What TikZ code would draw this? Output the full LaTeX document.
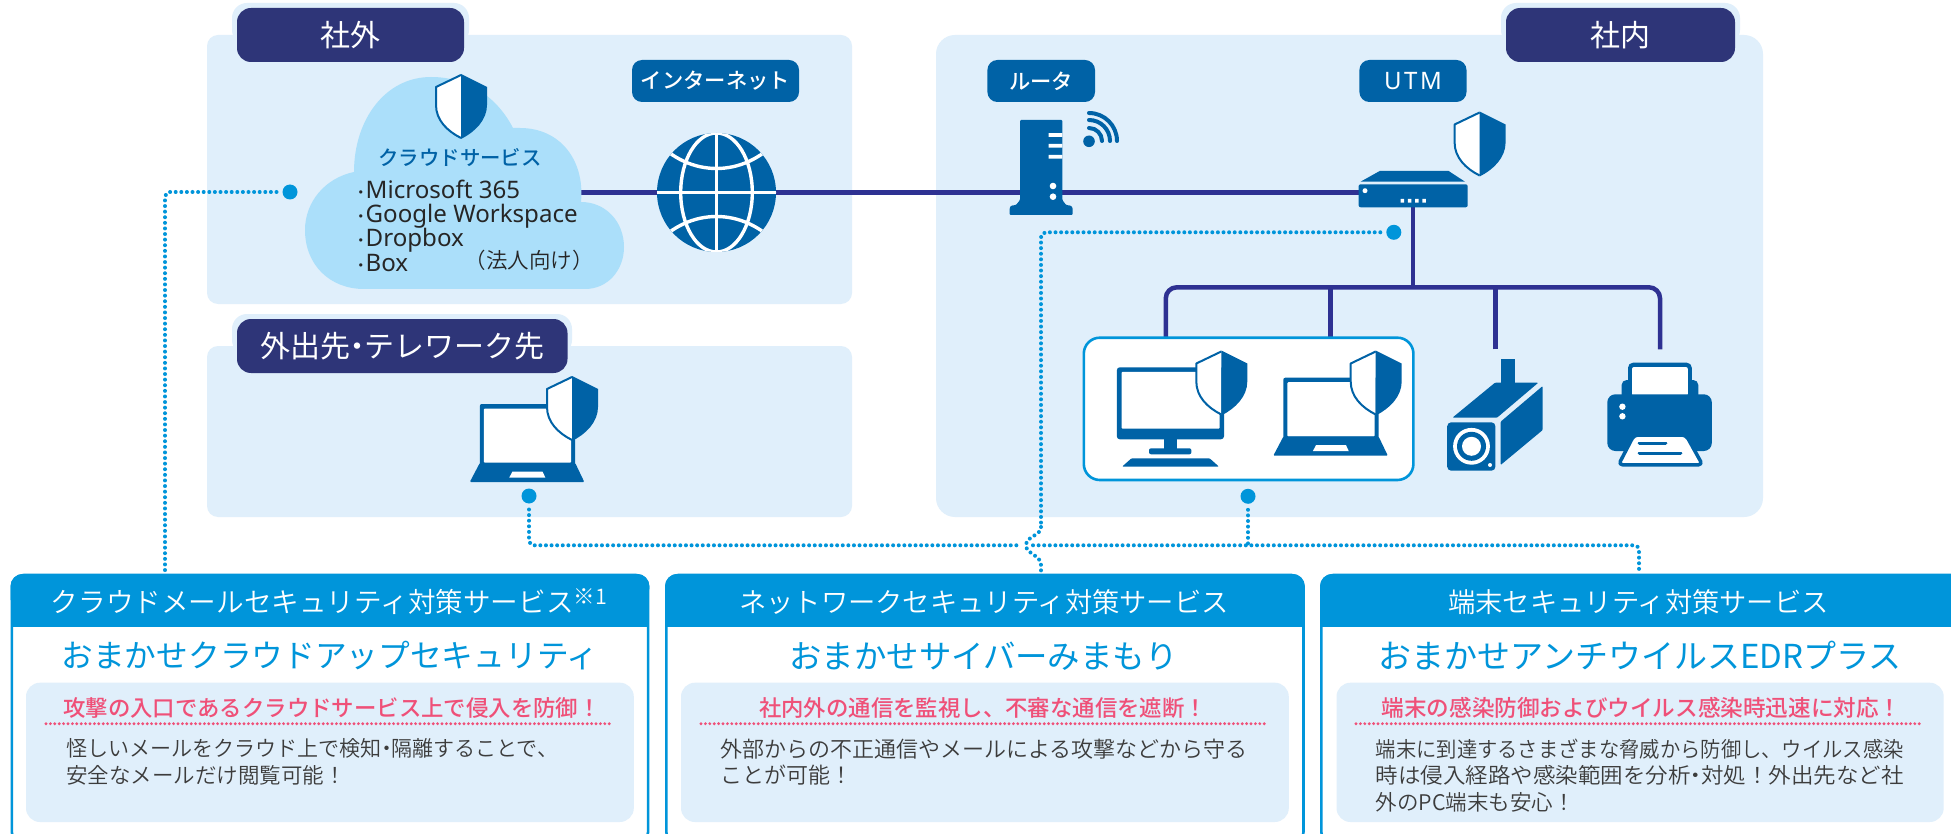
\documentclass[tikz,border=0pt]{standalone}
\usepackage{fontspec}
\setmainfont{Noto Sans CJK JP DemiLight}
\newfontfamily\jpreg{Noto Sans CJK JP}
\newfontfamily\jpmed{Noto Sans CJK JP Medium}
\newfontfamily\latinlist{Noto Sans}
\definecolor{panelbg}{HTML}{E0EFFB}
\definecolor{cloudbg}{HTML}{ABDFFA}
\definecolor{tabnavy}{HTML}{2E3578}
\definecolor{wire}{HTML}{2E3192}
\definecolor{iconblue}{HTML}{0062A6}
\definecolor{svcblue}{HTML}{0095DA}
\definecolor{pinkhead}{HTML}{EF5078}
\definecolor{bodygray}{HTML}{3C3C3C}
\newcommand{\fs}[1]{\fontsize{#1}{#1}\selectfont}
\newcommand{\nkt}{\kern-.27em ・\kern-.27em }
\newcommand{\hfit}[2]{\resizebox{#1pt}{\height}{#2}}
\newcommand{\listdot}{{\jpreg\fs{16}\kern-.3em ・\kern-.2em}}
\newcommand{\bnode}[7]{%
 \pgfmathsetmacro\bw{#5-#3}\pgfmathsetmacro\bh{#6-#4}%
 \pgfmathsetmacro\bcx{(#3+#5)/2}\pgfmathsetmacro\bcy{(#4+#6)/2}%
 \node[#1,minimum width=\bw pt,minimum height=\bh pt,inner sep=0pt,outer sep=0pt] (#2) at (\bcx,\bcy) {#7};}
\tikzset{
 panel/.style={fill=panelbg,rounded corners=11pt},
 panelbig/.style={fill=panelbg,rounded corners=19pt},
 halo/.style={fill=panelbg,rounded corners=15pt},
 tab/.style={fill=tabnavy,rounded corners=14pt,text=white,font=\jpreg\fs{30}},
 tag/.style={fill=iconblue,rounded corners=10pt,text=white,font=\jpmed\fs{21.3}},
 wireline/.style={draw=wire,line width=4.5pt},
 bluedot/.style={circle,fill=svcblue,minimum size=15pt,inner sep=0pt,outer sep=0pt},
 dotline/.style={draw=svcblue,line width=4pt,line cap=round,dash pattern=on 0pt off 5.6pt},
 pinkline/.style={draw=pinkhead,line width=3.2pt,line cap=round,dash pattern=on 0pt off 4.4pt},
 card/.style={draw=svcblue,line width=2.6pt,fill=white,rounded corners=12pt},
 inner/.style={fill=panelbg,rounded corners=14pt},
 headtext/.style={text=white,font=\fs{27.3},inner sep=0pt},
 titletext/.style={text=svcblue,font=\jpreg\fs{31.7},inner sep=0pt},
 pinktext/.style={text=pinkhead,font=\jpmed\fs{22.4},inner sep=0pt},
 bodytext/.style={text=bodygray,align=left,anchor=north west,inner sep=0pt},
 shieldicon/.pic={
  \fill[white] (0,0) -- (-25,12) -- (-25,30) .. controls (-25,45) and (-14,56) .. (0,63) -- cycle;
  \fill[iconblue] (0,-1) -- (26,12) -- (26,30) .. controls (26,45) and (14,57) .. (0,64) -- cycle;
  \draw[iconblue,line width=2pt,line join=round] (0,0) -- (-25,12) -- (-25,30) .. controls (-25,45) and (-14,56) .. (0,63);
 },
 laptopicon/.pic={
  \fill[iconblue,rounded corners=2pt] (0,0) rectangle (95.4,62);
  \fill[white,rounded corners=1pt] (4,4.5) rectangle (91.4,58.7);
  \fill[iconblue,rounded corners=1pt] (0,59) -- (95.4,59) -- (104.5,78) -- (-10,78) -- cycle;
  \fill[white] (32.7,67.5) -- (62.7,67.5) -- (65.5,73.5) -- (29.5,73.5) -- cycle;
 },
}
\begin{document}
\begin{tikzpicture}[x=1pt,y=-1pt]
\clip (0,0) rectangle (1951,834);
\fill[white] (0,0) rectangle (1951,834);
% panels
\bnode{panel}{pout}{207}{35}{852}{304}{}
\bnode{panel}{ptel}{207}{346}{852}{517}{}
\bnode{panelbig}{pin}{936}{35}{1763}{517}{}
\bnode{halo}{houtside}{232}{3}{469}{45}{}
\bnode{halo}{hinside}{1501}{3}{1740}{45}{}
\bnode{halo}{htel}{232}{314}{572}{355}{}
\bnode{tab}{tout}{237}{8}{464}{62}{社外}
\bnode{tab}{tin}{1506}{8}{1735}{62}{社内}
\bnode{tab}{ttel}{237}{319}{567.5}{373}{外出先\nkt テレワーク先}
\bnode{tag}{tnet}{632}{60}{799}{102}{インターネット}
\bnode{tag}{trouter}{987.4}{60}{1095}{102}{ルータ}
\bnode{tag,font=\latinlist\fs{24}\addfontfeature{LetterSpace=11}}{tutm}{1359.4}{60}{1466.5}{102}{UTM}
% wires
\coordinate (cloudR) at (575,192.4);
\coordinate (utmL) at (1362,192.4);
\draw[wireline] (cloudR) -- (utmL);
\coordinate (utmB) at (1413,205);
\coordinate (busTop) at (1413,287.3);
\coordinate (bA) at (1165.8,340);
\coordinate (bB) at (1330.6,340);
\coordinate (bC) at (1495.4,349.3);
\coordinate (bD) at (1660,349.3);
\draw[wireline] (utmB) -- (busTop);
\draw[wireline,rounded corners=11pt] (bA) |- (busTop) -| (bD);
\draw[wireline] (bB) -- (bB |- busTop);
\draw[wireline] (bC) -- (bC |- busTop);
% cloud
\fill[cloudbg] (364,289) -- (585,289)
 .. controls (608,289) and (624,270) .. (624,247)
 .. controls (624,222) and (606,202) .. (581,202)
 .. controls (585,160) and (560,128) .. (520,128)
 .. controls (517,128) and (515,128) .. (513,128)
 .. controls (497,97) and (468,77) .. (431,77)
 .. controls (385,77) and (354,120) .. (354,172)
 .. controls (325,178) and (305,202) .. (305,230)
 .. controls (305,265) and (330,289) .. (364,289) -- cycle;
\pic at (461,75) {shieldicon};
\node[inner sep=0pt,text=iconblue,font=\jpmed\fs{20.4}] (tcloud) at (460,158) {クラウドサービス};
\node[inner sep=0pt,align=left,anchor=north west,font=\latinlist\fontsize{24.1}{24.4}\selectfont,text=black!85] (tlist) at (357.5,179.5) {%
 \listdot Microsoft 365\\
 \listdot Google Workspace\\
 \listdot Dropbox\\
 \listdot Box};
\node[inner sep=0pt,font=\fs{21.5},text=black!85] (tcorp) at (529,260) {（法人向け）};
% globe
\begin{scope}
 \fill[iconblue] (716.5,192.5) circle (59.5);
 \clip (716.5,192.5) circle (59.5);
 \draw[white,line width=3.4pt] (716.5,130) -- (716.5,255) (655,192.5) -- (778,192.5);
 \draw[white,line width=3.4pt] (716.5,192.5) ellipse [x radius=35.8,y radius=59.5];
 \draw[white,line width=3.4pt] (655,140) .. controls (690,178) and (743,178) .. (778,140);
 \draw[white,line width=3.4pt] (655,245) .. controls (690,207) and (743,207) .. (778,245);
\end{scope}
% router
\fill[iconblue,rounded corners=1pt] (1020,120) -- (1062.4,120) -- (1062.4,200) -- (1066,205) -- (1071,205.7) -- (1072.7,208) -- (1072.7,215) -- (1009.6,215) -- (1009.6,208) -- (1011,205.7) -- (1016,205) -- (1020,200) -- cycle;
\fill[white] (1048.6,133.2) rectangle (1062.4,137) (1048.6,143.8) rectangle (1062.4,147.6) (1048.6,154.8) rectangle (1062.4,158.6);
\fill[white] (1053,186) circle (3.3) (1053,196.7) circle (3.3);
\fill[iconblue] (1089,141.3) circle (5.8);
\draw[iconblue,line width=4pt,line cap=round] (1089,128) arc[start angle=-90,end angle=0,radius=13]
 (1089,120) arc[start angle=-90,end angle=0,radius=21]
 (1089,113) arc[start angle=-90,end angle=0,radius=28];
% UTM
\fill[iconblue] (1360.5,181.7) -- (1379.7,171) -- (1448.6,171) -- (1465,181.7) -- cycle;
\fill[iconblue,rounded corners=2pt] (1358.6,184.3) rectangle (1467.7,207.3);
\fill[white] (1365,190.7) circle (2.5);
\fill[white] (1400.7,199) rectangle +(3.5,3.7) (1407.9,199) rectangle +(3.5,3.7) (1415.1,199) rectangle +(3.5,3.7) (1422.3,199) rectangle +(3.5,3.7);
\pic at (1479.6,112.5) {shieldicon};
% device box
\bnode{draw=svcblue,line width=2.6pt,fill=white,rounded corners=16pt}{devbox}{1083.8}{337.7}{1413.4}{480}{}
% desktop
\fill[iconblue,rounded corners=3pt] (1116.8,367.3) rectangle (1224,439.3);
\fill[white,rounded corners=1pt] (1121.6,371.8) rectangle (1219.6,428.7);
\fill[iconblue] (1164,439) rectangle (1177,449);
\fill[iconblue,rounded corners=2pt] (1149,448.3) rectangle (1191.4,454.3);
\fill[iconblue,rounded corners=1pt] (1131.5,458.3) -- (1209.6,458.3) -- (1219,466.7) -- (1122,466.7) -- cycle;
\pic at (1221.3,351.5) {shieldicon};
% laptops
\pic at (1283.3,377.7) {laptopicon};
\pic at (1375.7,351.5) {shieldicon};
\pic at (479.8,404) {laptopicon};
\pic at (572,377) {shieldicon};
% camera
\fill[iconblue] (1501,359) rectangle (1515.3,383);
\fill[iconblue,rounded corners=1pt] (1452.4,417.7) -- (1495,382.7) -- (1538.3,382.7) -- (1497,417.7) -- cycle;
\fill[iconblue,rounded corners=1pt] (1542.7,386) -- (1542.7,430) -- (1500.6,465) -- (1500.6,421.7) -- cycle;
\fill[iconblue,rounded corners=4pt] (1447.2,422.3) -- (1495.4,422.3) -- (1495.4,470.7) -- (1447.2,470.7) -- cycle;
\fill[white] (1471.5,446.3) circle (18.4);
\fill[iconblue] (1471.5,446.3) circle (14.5);
\fill[white] (1471.5,446.3) circle (9.5);
\fill[white] (1490,465) circle (2);
% printer
\fill[iconblue,rounded corners=5pt] (1621.6,380) rectangle (1698.3,400);
\fill[iconblue,rounded corners=5pt] (1628,362.7) rectangle (1691.8,396);
\fill[white,rounded corners=2pt] (1632,367) rectangle (1687.8,396);
\fill[iconblue,rounded corners=8pt] (1607.3,394.3) rectangle (1711.8,451);
\fill[white] (1622.4,406.7) circle (3.2) (1622.4,416.3) circle (3.2);
\draw[iconblue,line width=3.5pt,fill=white,rounded corners=4pt,line join=round] (1634,435) -- (1686,435) -- (1702.5,464.8) -- (1618.5,464.8) -- cycle;
\draw[iconblue,line width=3.6pt,line cap=round] (1639.5,443.3) -- (1665.5,443.3) (1639.5,453.3) -- (1680.5,453.3);
% dots
\node[bluedot] (dotc) at (290,192) {};
\node[bluedot] (dotl) at (529,496) {};
\node[bluedot] (dotn) at (1393.8,232.3) {};
\node[bluedot] (dotd) at (1248,496.3) {};
% service cards
\bnode{card}{cardA}{11.8}{575}{648.1}{844}{}
\bnode{card}{cardB}{666.3}{575}{1303.5}{844}{}
\bnode{card}{cardC}{1321.3}{575}{1965}{844}{}
\fill[svcblue] (10.5,600) [rounded corners=12pt] -- (10.5,574) -- (649.4,574) -- (649.4,600) [sharp corners] -- cycle;
\fill[svcblue] (10.5,595) rectangle (649.4,626.7);
\fill[svcblue] (665,600) [rounded corners=12pt] -- (665,574) -- (1304.8,574) -- (1304.8,600) [sharp corners] -- cycle;
\fill[svcblue] (665,595) rectangle (1304.8,626.7);
\fill[svcblue] (1320,600) [rounded corners=12pt] -- (1320,574) -- (1966.5,574) -- (1966.5,600) [sharp corners] -- cycle;
\fill[svcblue] (1320,595) rectangle (1966.5,626.7);
\node[headtext,font=\fs{27.6}] (headA) at (329,601.7) {クラウドメールセキュリティ対策サービス{\raisebox{8pt}{\fs{21.5}※1}}};
\node[headtext] (headB) at (984,601.7) {ネットワークセキュリティ対策サービス};
\node[headtext] (headC) at (1638.5,601.7) {端末セキュリティ対策サービス};
\node[titletext] (titleA) at (330,656) {おまかせクラウドアップセキュリティ};
\node[titletext,font=\jpreg\fs{32.4}] (titleB) at (983.5,656) {おまかせサイバーみまもり};
\node[titletext,font=\jpreg\fs{33}] (titleC) at (1640,656) {おまかせアンチウイルスEDRプラス};
\bnode{inner}{innerA}{26}{682.7}{633.8}{822}{}
\bnode{inner}{innerB}{681}{682.7}{1288.8}{822}{}
\bnode{inner}{innerC}{1336.5}{682.7}{1943.7}{822}{}
\node[pinktext] (pinkA) at (332,707.7) {攻撃の入口であるクラウドサービス上で侵入を防御！};
\node[pinktext] (pinkB) at (983,707.7) {社内外の通信を監視し、不審な通信を遮断！};
\node[pinktext,font=\jpmed\fs{22.6}] (pinkC) at (1641.5,707.7) {端末の感染防御およびウイルス感染時迅速に対応！};
\coordinate (plAl) at (46,723.7); \coordinate (plAr) at (612,723.7);
\coordinate (plBl) at (701,723.7); \coordinate (plBr) at (1267,723.7);
\coordinate (plCl) at (1356,723.7); \coordinate (plCr) at (1922,723.7);
\draw[pinkline] (plAl) -- (plAr);
\draw[pinkline] (plBl) -- (plBr);
\draw[pinkline] (plCl) -- (plCr);
\node[bodytext,font=\fontsize{21.5}{26.7}\selectfont] (bodyA) at (66,738.5) {\hfit{492}{怪しいメールをクラウド上で検知\nkt 隔離することで、}\\安全なメールだけ閲覧可能！};
\node[bodytext,font=\fontsize{22}{26.7}\selectfont] (bodyB) at (720,738.5) {外部からの不正通信やメールによる攻撃などから守る\\ことが可能！};
\node[bodytext,font=\fontsize{21.5}{26.7}\selectfont] (bodyC) at (1375.6,738.5) {\hfit{528}{端末に到達するさまざまな脅威から防御し、ウイルス感染}\\\hfit{528}{時は侵入経路や感染範囲を分析\nkt 対処！外出先など社}\\外のPC端末も安心！};
% dotted connectors
\coordinate (cinA) at (165,573);
\coordinate (cinB) at (1041,573);
\coordinate (cinC) at (1639,573);
\coordinate (netA) at (1041,527);
\coordinate (netB) at (1041,565);
\coordinate (bump) at (1026,545.3);
\coordinate (hL) at (1019,545.3);
\coordinate (hR) at (1033,545.3);
\draw[dotline,rounded corners=5pt,shorten <=6pt] (dotc.west) -| (cinA);
\draw[dotline,rounded corners=5pt,shorten <=6pt] (dotn.west) -| (netA);
\draw[dotline] (netA) .. controls (1041,536) and (1026,536) .. (bump) .. controls (1026,554) and (1041,555) .. (netB) -- (cinB);
\draw[dotline,rounded corners=5pt,shorten <=6pt] (dotl.south) |- (hL);
\draw[dotline,rounded corners=5pt] (hR) -| (cinC);
\draw[dotline,shorten <=6pt] (dotd.south) -- (dotd.south |- hR);
\end{tikzpicture}
\end{document}
